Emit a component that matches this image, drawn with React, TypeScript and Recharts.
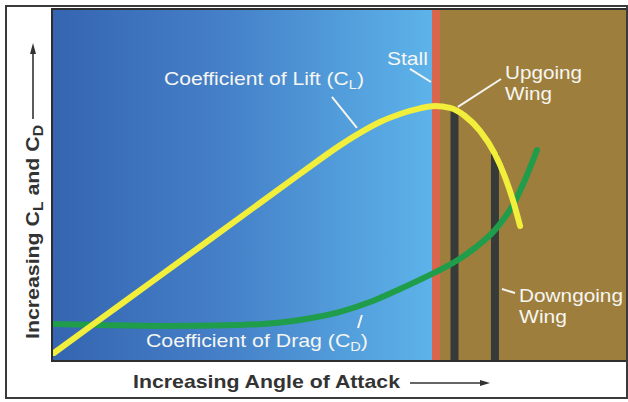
import React from 'react';
import { LineChart, Line, XAxis, YAxis, ReferenceArea, ReferenceLine, ReferenceDot } from 'recharts';

// Angle of attack (arbitrary units) and coefficient values
const liftAngle = [0.11, 2.23, 5.45, 10.46, 13.8, 16.03, 17.14, 18.25, 19.37, 20.48, 21.31, 22.15, 22.98, 23.82, 24.65, 25.21, 25.65, 26.05];
const liftCoef = [0.04, 0.178, 0.387, 0.713, 0.93, 1.072, 1.134, 1.188, 1.228, 1.256, 1.268, 1.258, 1.218, 1.144, 1.029, 0.915, 0.8, 0.671];
const dragAngle = [0.0, 2.67, 6.01, 10.46, 13.8, 16.03, 17.7, 19.37, 21.26, 22.31, 23.54, 24.65, 25.65, 26.32, 26.99];
const dragCoef = [0.184, 0.179, 0.174, 0.179, 0.204, 0.244, 0.293, 0.358, 0.438, 0.487, 0.562, 0.651, 0.776, 0.9, 1.049];

const angleDomain = [0, 32];
const coefDomain = [0, 1.75];
const stallAngle = 21.37;
const wingAngles = [22.4, 24.65]; // upgoing, downgoing
const wingTops = [1.245, 1.03];

// annotation texts
const noteMain = ['Coefficient of Lift (C', 'Stall', 'Upgoing', 'Wing', 'Downgoing', 'Wing', 'Coefficient of Drag (C'];
const noteSub = ['L', '', '', '', '', '', 'D'];
const noteTail = [')', '', '', '', '', '', ')'];
const noteX = [6.23, 18.64, 25.21, 25.21, 25.99, 25.99, 5.23];
const noteY = [1.372, 1.472, 1.402, 1.298, 0.293, 0.189, 0.07];
const noteWidth = [200, 41, 77, 47, 104, 48, 222];

// leader lines [x1, y1, x2, y2]
const leaders = [
  [15.58, 1.313, 16.97, 1.159],
  [19.92, 1.452, 21.09, 1.387],
  [24.99, 1.402, 22.59, 1.263],
  [25.04, 0.358, 25.77, 0.338],
  [17.25, 0.229, 17.03, 0.164],
];

const xTitle = 'Increasing Angle of Attack';
const yTitleParts = ['Increasing C', 'L', ' and C', 'D'];

const liftData = liftAngle.map((x, i) => ({ x, y: liftCoef[i] }));
const dragData = dragAngle.map((x, i) => ({ x, y: dragCoef[i] }));

const FONT = '"Liberation Sans", Arial, Helvetica, sans-serif';

const makeNote = (i: number) => (p: any) => (
  <text
    x={p.cx}
    y={p.cy}
    fill="#f6f6f2"
    fontSize={19}
    fontFamily={FONT}
    textLength={noteWidth[i]}
    lengthAdjust="spacingAndGlyphs"
  >
    {noteMain[i]}
    {noteSub[i] ? <tspan fontSize={13} dy={4}>{noteSub[i]}</tspan> : null}
    {noteTail[i] ? <tspan dy={noteSub[i] ? -4 : 0}>{noteTail[i]}</tspan> : null}
  </text>
);

export default function App() {
  return (
    <div style={{ position: 'fixed', left: 0, top: 0, width: 628, height: 402, background: '#fff', overflow: 'hidden' }}>
      <div style={{ position: 'absolute', left: 0, top: 0 }}>
        <LineChart width={628} height={402} margin={{ top: 9, right: 1, bottom: 41, left: 52 }}>
          <defs>
            <linearGradient id="blueGrad" x1="0" y1="0" x2="1" y2="0">
              <stop offset="0%" stopColor="#3565b0" />
              <stop offset="45%" stopColor="#4580c8" />
              <stop offset="100%" stopColor="#5db4ea" />
            </linearGradient>
          </defs>
          <XAxis type="number" dataKey="x" domain={angleDomain} hide allowDataOverflow />
          <YAxis type="number" dataKey="y" domain={coefDomain} hide allowDataOverflow />
          <ReferenceArea x1={angleDomain[0]} x2={stallAngle} y1={coefDomain[0]} y2={coefDomain[1]} fill="url(#blueGrad)" fillOpacity={1} stroke="none" zIndex={0} />
          <ReferenceArea x1={stallAngle} x2={angleDomain[1]} y1={coefDomain[0]} y2={coefDomain[1]} fill="#9e7e3c" fillOpacity={1} stroke="none" zIndex={0} />
          <ReferenceLine x={stallAngle} stroke="#d9664c" strokeWidth={8} zIndex={1} />
          {wingAngles.map((a, i) => (
            <ReferenceLine
              key={'w' + i}
              segment={[{ x: a, y: coefDomain[0] }, { x: a, y: wingTops[i] }]}
              stroke="#363a38"
              strokeWidth={8}
              zIndex={1}
            />
          ))}
          {leaders.map((l, i) => (
            <ReferenceLine
              key={'l' + i}
              segment={[{ x: l[0], y: l[1] }, { x: l[2], y: l[3] }]}
              stroke="#f4f4f0"
              strokeWidth={2}
              zIndex={2}
            />
          ))}
          <Line data={dragData} dataKey="y" type="monotone" stroke="#1f9d4b" strokeWidth={6} strokeLinecap="round" dot={false} isAnimationActive={false} />
          <Line data={liftData} dataKey="y" type="monotone" stroke="#f1ee3c" strokeWidth={6} strokeLinecap="round" dot={false} isAnimationActive={false} />
          {noteMain.map((_, i) => (
            <ReferenceDot key={'n' + i} x={noteX[i]} y={noteY[i]} r={1} shape={makeNote(i)} zIndex={2000} />
          ))}
          <ReferenceArea x1={angleDomain[0]} x2={angleDomain[1]} y1={coefDomain[0]} y2={coefDomain[1]} fill="none" stroke="#2e2e2e" strokeWidth={2} zIndex={3000} />
        </LineChart>
      </div>
      <svg width={628} height={402} style={{ position: 'absolute', left: 0, top: 0, pointerEvents: 'none' }}>
        <rect x={6} y={6} width={621} height={392} fill="none" stroke="#3a3a3a" strokeWidth={2} />
        <text x={133} y={388} fontSize={19} fontWeight="bold" fontFamily={FONT} fill="#333" textLength={267} lengthAdjust="spacingAndGlyphs">
          {xTitle}
        </text>
        <line x1={410} y1={383} x2={482} y2={383} stroke="#333" strokeWidth={1.6} />
        <polygon points="490,383 480,380 480,386" fill="#333" />
        <text transform="rotate(-90, 39, 339)" x={39} y={339} fontSize={19} fontWeight="bold" fontFamily={FONT} fill="#333" textLength={214} lengthAdjust="spacingAndGlyphs">
          {yTitleParts[0]}
          <tspan fontSize={14} dy={4}>{yTitleParts[1]}</tspan>
          <tspan dy={-4}>{yTitleParts[2]}</tspan>
          <tspan fontSize={14} dy={4}>{yTitleParts[3]}</tspan>
        </text>
        <line x1={33} y1={119} x2={33} y2={52} stroke="#333" strokeWidth={1.6} />
        <polygon points="33,43 30,54 36,54" fill="#333" />
      </svg>
    </div>
  );
}
